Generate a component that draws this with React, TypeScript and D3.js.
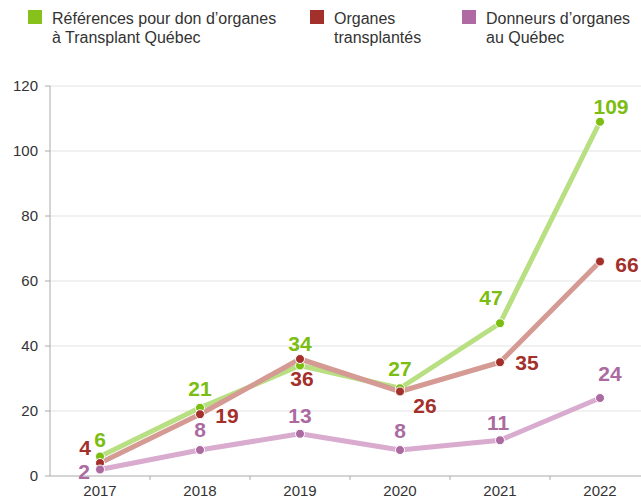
import { useMemo } from 'react'
import * as d3 from 'd3'

const years = ['2017', '2018', '2019', '2020', '2021', '2022']
const references = [6, 21, 34, 27, 47, 109]
const transplanted = [4, 19, 36, 26, 35, 66]
const donors = [2, 8, 13, 8, 11, 24]
const yTicks = [0, 20, 40, 60, 80, 100, 120]

const seriesNames = [
  ['Références pour don d’organes', 'à Transplant Québec'],
  ['Organes', 'transplantés'],
  ['Donneurs d’organes', 'au Québec'],
]

// label offsets relative to each point (dx, dy of the text centre)
const labelOffsets: Array<Array<[number, number]>> = [
  [[0, -17], [0, -19], [0, -22], [0, -20], [-9, -26], [11, -15]],
  [[-15, -15], [27, 1], [2, 20], [25, 14], [27, 0], [27, 3]],
  [[-16, 2], [0, -20], [0, -18], [0, -19], [-2, -18], [10, -24]],
]

const lineColors = ['#b8df82', '#d49a93', '#d8abcf']
const dotColors = ['#7cbd12', '#a3302b', '#ab6aa0']
const textColors = ['#7cbd12', '#a3302b', '#ab6aa0']
const legendColors = ['#86c11c', '#a3302b', '#b06aa3']

const W = 641
const H = 503
const FONT = '"Liberation Sans", Arial, sans-serif'

export default function App() {
  const { x, y, series } = useMemo(() => {
    const x = d3.scaleBand<string>().domain(years).range([50, 650])
    const y = d3.scaleLinear().domain([0, 120]).range([476, 86])
    const series = [references, transplanted, donors]
    return { x, y, series }
  }, [])

  const cx = (yr: string) => (x(yr) ?? 0) + x.bandwidth() / 2
  const line = d3
    .line<number>()
    .x((_, i) => cx(years[i]))
    .y((d) => y(d))

  const legendX = [28, 310, 462]

  return (
    <svg
      width={W}
      height={H}
      style={{ position: 'absolute', left: 0, top: 0, background: '#fff' }}
      fontFamily={FONT}
    >
      {/* legend */}
      {seriesNames.map((lines, i) => (
        <g key={i} transform={`translate(${legendX[i]},0)`}>
          <rect x={0} y={10} width={14} height={14} fill={legendColors[i]} />
          {lines.map((t, j) => (
            <text key={j} x={24} y={24 + j * 19} fontSize={16} fill="#333">
              {t}
            </text>
          ))}
        </g>
      ))}

      {/* grid */}
      {yTicks.map((t) => (
        <g key={t}>
          {t > 0 && <line x1={50} x2={W} y1={y(t)} y2={y(t)} stroke="#e3e3e3" strokeWidth={1} />}
          <line x1={45} x2={50} y1={y(t)} y2={y(t)} stroke="#aaa" />
          <text x={38} y={y(t)} dy="0.35em" textAnchor="end" fontSize={15} fill="#333">
            {t}
          </text>
        </g>
      ))}

      {/* axes */}
      <line x1={50} x2={50} y1={y(120)} y2={y(0)} stroke="#aaa" />
      <line x1={50} x2={W} y1={y(0)} y2={y(0)} stroke="#aaa" />
      {years.map((yr) => (
        <g key={yr}>
          <line x1={(x(yr) ?? 0) + x.bandwidth()} x2={(x(yr) ?? 0) + x.bandwidth()} y1={y(0)} y2={y(0) + 4} stroke="#aaa" />
          <text x={cx(yr)} y={496} textAnchor="middle" fontSize={15} fill="#333">
            {yr}
          </text>
        </g>
      ))}

      {/* lines */}
      {series.map((s, i) => (
        <path
          key={i}
          d={line(s) ?? ''}
          fill="none"
          stroke={lineColors[i]}
          strokeWidth={5}
          strokeLinejoin="round"
        />
      ))}
      {series.map((s, i) => (
        <g key={i}>
          {s.map((v, k) => (
            <circle key={k} cx={cx(years[k])} cy={y(v)} r={4.5} fill={dotColors[i]} stroke="#fff" strokeWidth={1} />
          ))}
        </g>
      ))}
      {series.map((s, i) => (
        <g key={i}>
          {s.map((v, k) => (
            <text
              key={k}
              x={cx(years[k]) + labelOffsets[i][k][0]}
              y={y(v) + labelOffsets[i][k][1]}
              dy="0.35em"
              textAnchor="middle"
              fontSize={21}
              fontWeight="bold"
              fill={textColors[i]}
            >
              {v}
            </text>
          ))}
        </g>
      ))}
    </svg>
  )
}
